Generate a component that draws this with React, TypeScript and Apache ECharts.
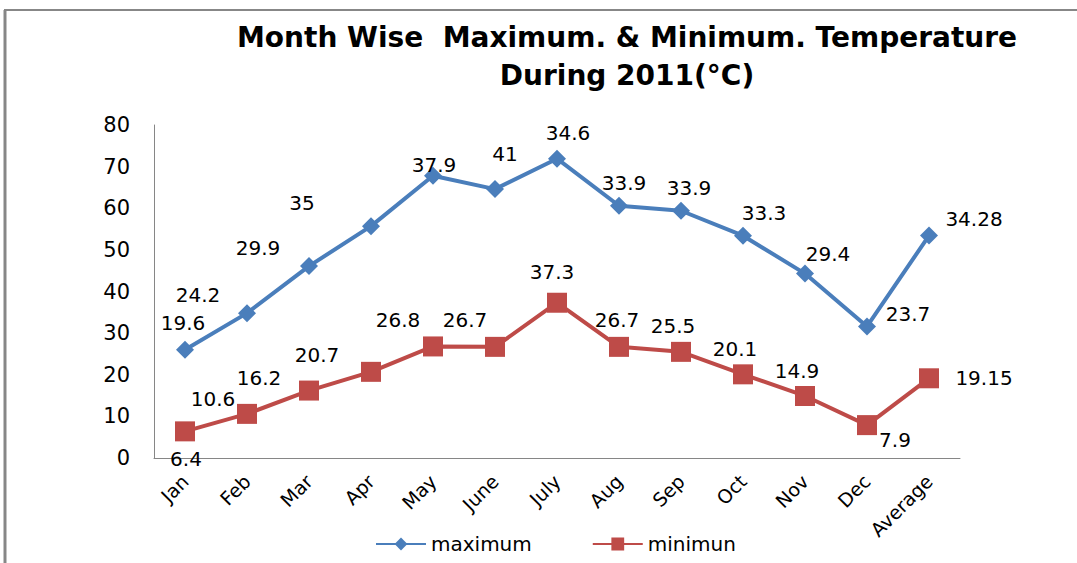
import React, { useEffect, useRef } from "react";
import * as echarts from "echarts";

const categories = ["Jan", "Feb", "Mar", "Apr", "May", "June", "July", "Aug", "Sep", "Oct", "Nov", "Dec", "Average"];
const maximumValues = [19.6, 24.2, 29.9, 35, 41, 37.9, 34.6, 33.9, 33.9, 33.3, 29.4, 23.7, 34.28];
const minimumValues = [6.4, 10.6, 16.2, 20.7, 26.8, 26.7, 37.3, 26.7, 25.5, 20.1, 14.9, 7.9, 19.15];
const yTicks = { min: 0, max: 80, interval: 10 };

// label placement (layout only)
const maxLabelOffsets: [number, number][] = [
  [-2, -27], [-49, -18], [-51, -18], [-69, -23], [72, -22], [-61, -24], [11, -26],
  [5, -23], [8, -23], [21, -23], [23, -20], [41, -12], [45, -17],
];
const minLabelOffsets: [number, number][] = [
  [1, 28], [-34, -15], [-50, -13], [-54, -17], [-35, -26], [-30, -27], [-5, -31],
  [-2, -27], [-8, -26], [-8, -25], [-8, -25], [28, 15], [55, 0],
];

const FONT = "DejaVu Sans";

export default function App() {
  const ref = useRef<HTMLDivElement>(null);
  useEffect(() => {
    if (!ref.current) return;
    const chart = echarts.init(ref.current, null, { renderer: "svg" });
    const labelStyle = { show: true, position: "inside", color: "#000", fontFamily: FONT, fontSize: 20 };
    chart.setOption({
      animation: false,
      backgroundColor: "#fff",
      title: {
        text: "Month Wise  Maximum. & Minimum. Temperature\nDuring 2011(°C)",
        left: 622,
        top: 13,
        textAlign: "center",
        textStyle: { fontFamily: FONT, fontWeight: "bold", fontSize: 28, color: "#000", lineHeight: 38 },
      },
      graphic: [
        { type: "line", shape: { x1: 5, y1: 10, x2: 5, y2: 563 }, style: { stroke: "#878787", lineWidth: 3 } },
        { type: "line", shape: { x1: 4, y1: 10, x2: 1077, y2: 10 }, style: { stroke: "#878787", lineWidth: 2 } },
      ],
      legend: {
        data: ["maximum", "minimun"],
        bottom: 4,
        left: 370,
        itemWidth: 50,
        itemHeight: 16,
        itemGap: 60,
        textStyle: { fontFamily: FONT, fontSize: 20, color: "#000" },
      },
      grid: { left: 154, right: 117, top: 125, bottom: 105, containLabel: false },
      xAxis: {
        type: "category",
        data: categories,
        boundaryGap: true,
        axisLine: { lineStyle: { color: "#868686", width: 1 } },
        axisTick: { show: false },
        axisLabel: { rotate: 45, margin: 20, interval: 0, color: "#000", fontFamily: FONT, fontSize: 19 },
      },
      yAxis: {
        type: "value",
        min: yTicks.min,
        max: yTicks.max,
        interval: yTicks.interval,
        splitLine: { show: false },
        axisLine: { show: true, lineStyle: { color: "#868686", width: 1 } },
        axisTick: { show: false },
        axisLabel: { margin: 24, color: "#000", fontFamily: FONT, fontSize: 21 },
      },
      series: [
        {
          name: "minimun",
          type: "line",
          stack: "total",
          data: minimumValues.map((v, i) => ({ value: v, label: { offset: minLabelOffsets[i] } })),
          symbol: "rect",
          symbolSize: 20,
          itemStyle: { color: "#BE4B48" },
          lineStyle: { color: "#BE4B48", width: 4 },
          label: labelStyle,
          z: 3,
        },
        {
          name: "maximum",
          type: "line",
          stack: "total",
          data: maximumValues.map((v, i) => ({ value: v, label: { offset: maxLabelOffsets[i] } })),
          symbol: "diamond",
          symbolSize: 18,
          itemStyle: { color: "#4A7EBB" },
          lineStyle: { color: "#4A7EBB", width: 4 },
          label: labelStyle,
          z: 2,
        },
      ],
    });
    return () => chart.dispose();
  }, []);
  return <div ref={ref} style={{ position: "fixed", left: 0, top: 0, width: 1077, height: 563 }} />;
}
